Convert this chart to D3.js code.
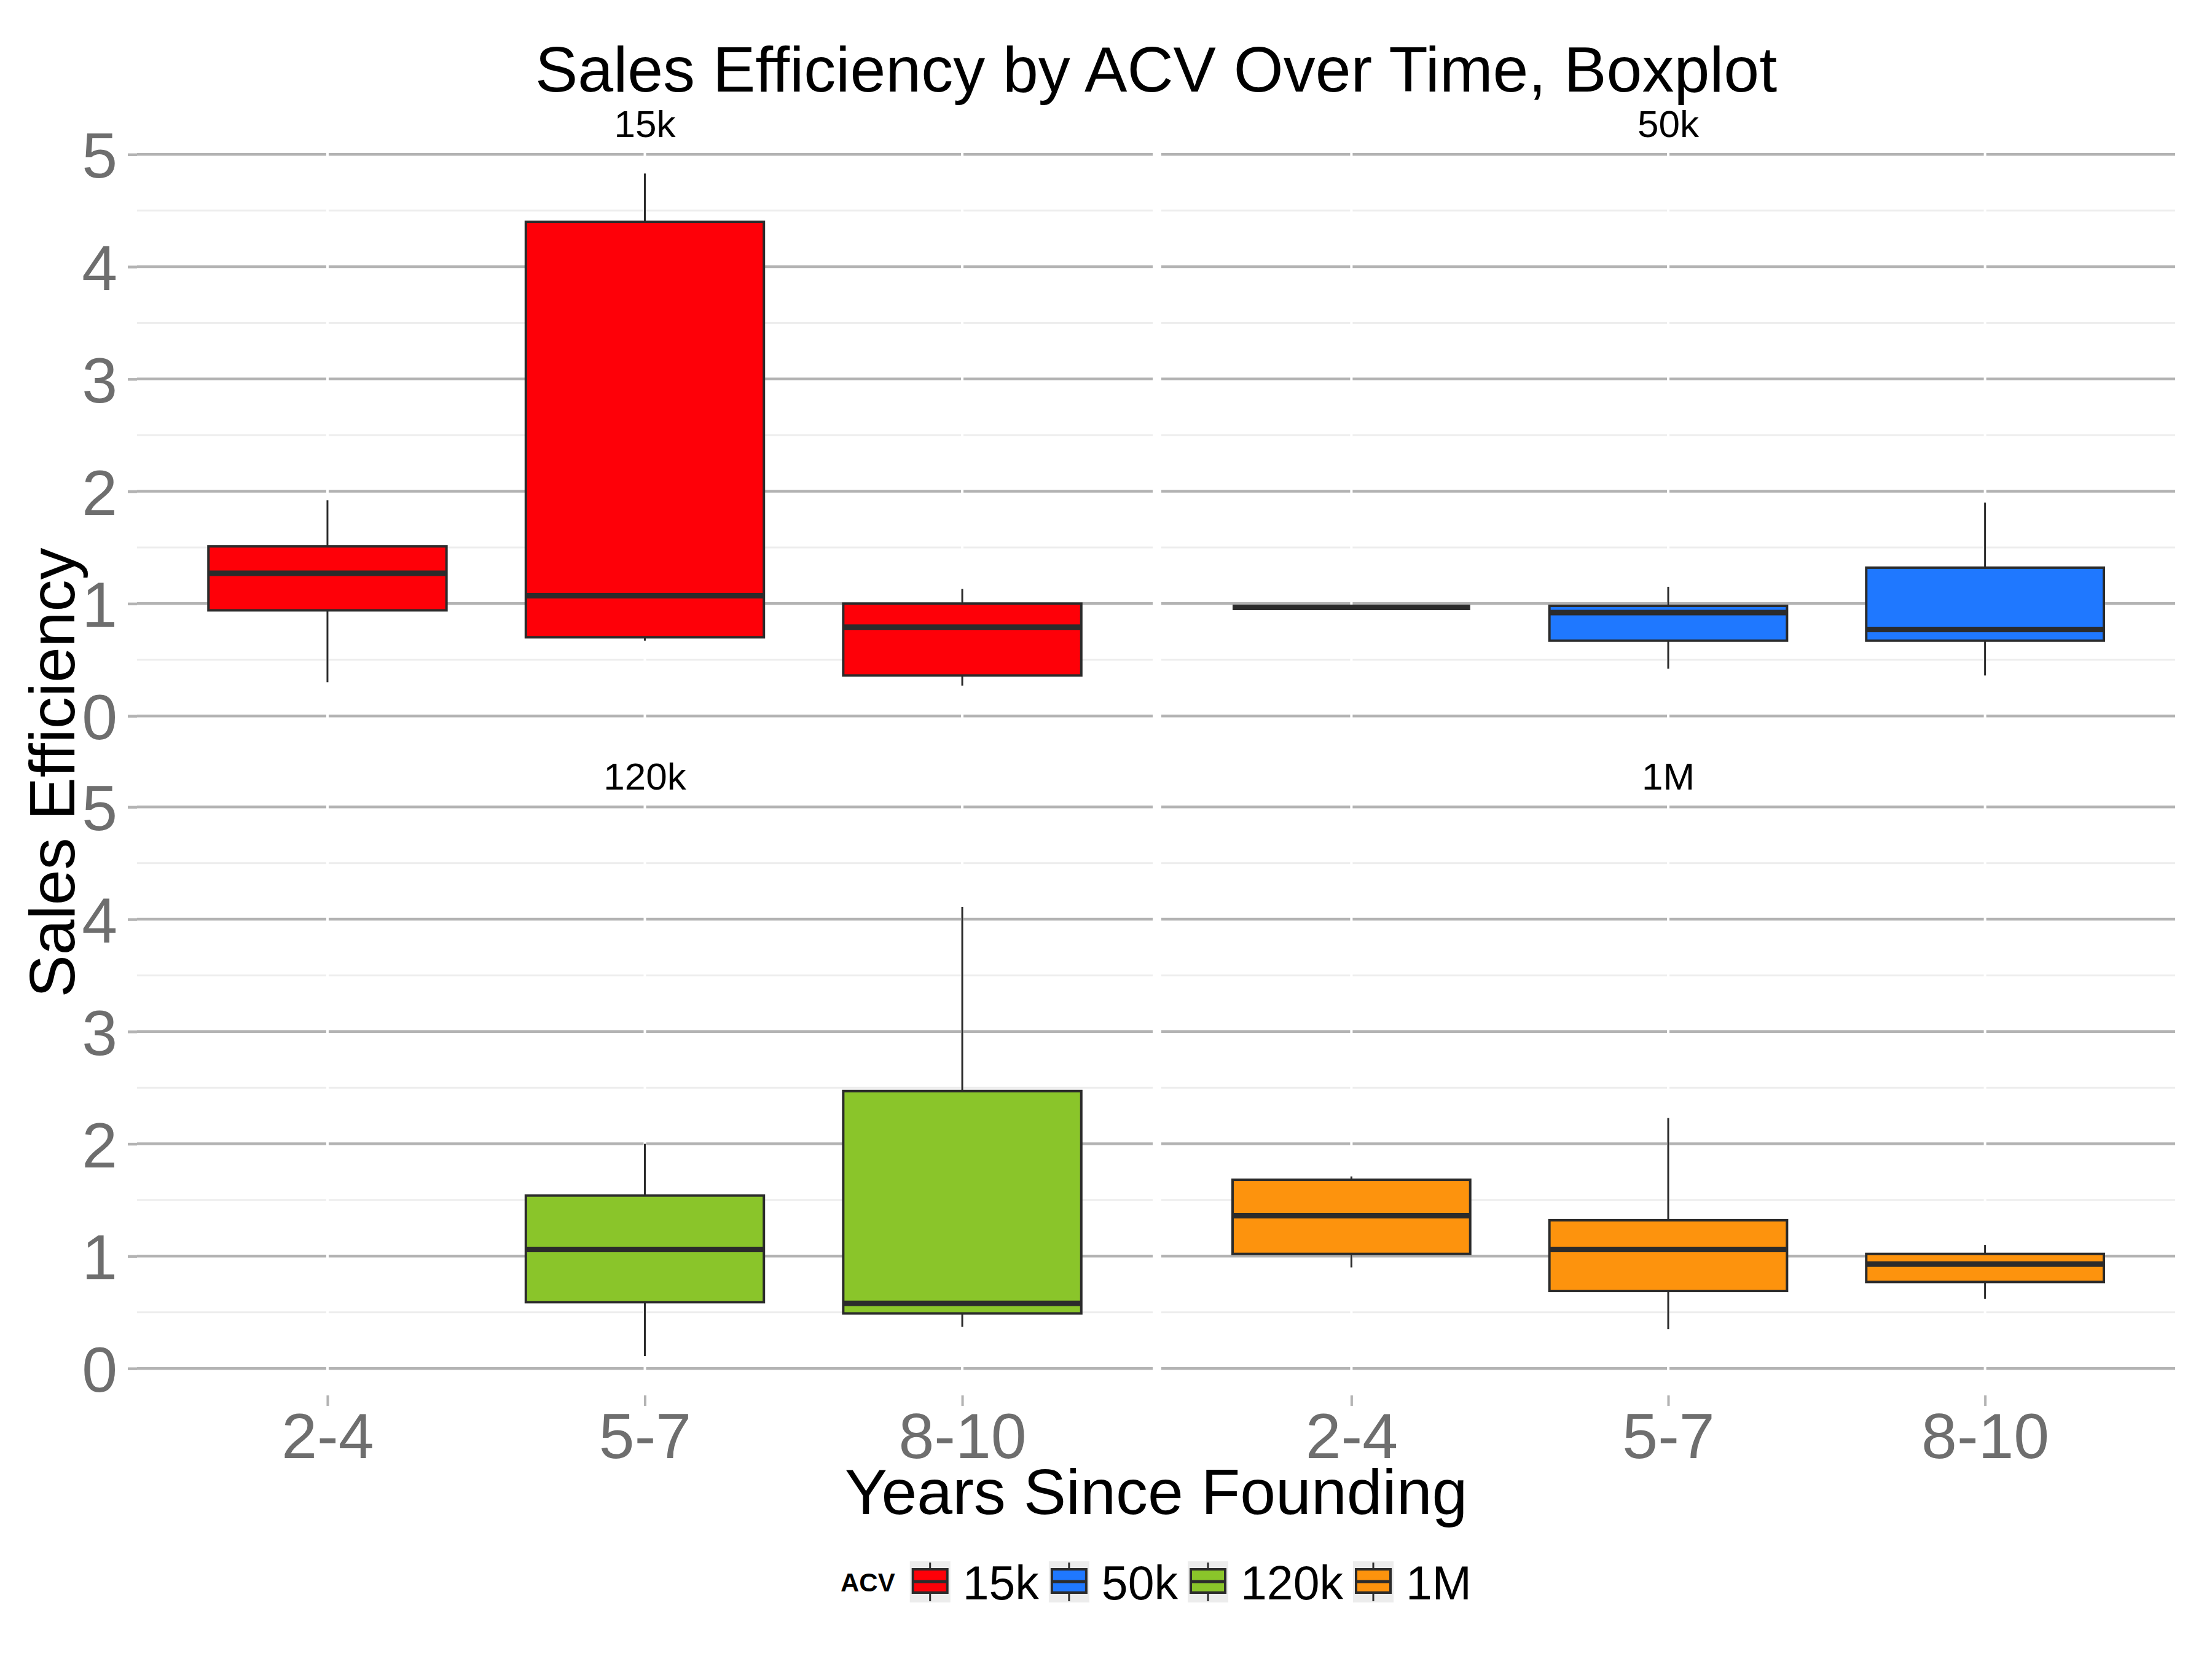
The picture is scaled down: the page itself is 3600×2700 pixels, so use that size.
<!DOCTYPE html>
<html><head><meta charset="utf-8">
<script src="https://cdn.jsdelivr.net/npm/d3@7"></script>
<style>
body{margin:0;background:#fff}
text{font-family:"Liberation Sans",Arial,sans-serif}
</style>
</head><body>
<svg id="chart" width="3600" height="2700"></svg>
<script>
// ---------------- data ----------------
const years = ["2-4", "5-7", "8-10"];
const acvLevels = ["15k", "50k", "120k", "1M"];
const acvColors = ["#FE0008", "#1F78FF", "#8AC52A", "#FD930D"];
// each entry: [lower whisker, Q1, median, Q3, upper whisker]; null = no data
const stats15k  = [[0.30, 0.94, 1.27, 1.51, 1.92], [0.67, 0.70, 1.07, 4.40, 4.83], [0.27, 0.36, 0.79, 1.00, 1.13]];
const stats50k  = [[0.966, 0.966, 0.966, 0.966, 0.966], [0.42, 0.67, 0.92, 0.98, 1.15], [0.36, 0.67, 0.77, 1.32, 1.90]];
const stats120k = [null, [0.11, 0.59, 1.06, 1.54, 2.00], [0.37, 0.49, 0.58, 2.47, 4.11]];
const stats1M   = [[0.90, 1.02, 1.36, 1.68, 1.71], [0.35, 0.69, 1.06, 1.32, 2.23], [0.62, 0.77, 0.93, 1.02, 1.10]];
const yTicks = [0, 1, 2, 3, 4, 5];
const yMinorTicks = [0.5, 1.5, 2.5, 3.5, 4.5];
const chartTitle = "Sales Efficiency by ACV Over Time, Boxplot";
const xTitle = "Years Since Founding";
const yTitle = "Sales Efficiency";
const legendTitle = "ACV";

const allStats = [stats15k, stats50k, stats120k, stats1M];

// ---------------- layout ----------------
const svg = d3.select("#chart");
svg.append("rect").attr("width", 3600).attr("height", 2700).attr("fill", "#fff");

const cols = [[223, 1876], [1890, 3540]];
const rows = [[244, 1209], [1306, 2271]];
const yDomain = [-0.24, 5.04];
const gridMajor = "#b3b3b3", gridMinor = "#ededed", tickText = "#6e6e6e", ink = "#2b2b2b";

const panels = acvLevels.map((acv, i) => ({
  acv, color: acvColors[i], stats: allStats[i],
  col: i % 2, row: Math.floor(i / 2)
}));

panels.forEach(p => {
  const [x0, x1] = cols[p.col];
  const [y0, y1] = rows[p.row];
  const x = d3.scalePoint().domain(years).range([x0, x1]).padding(0.6);
  const y = d3.scaleLinear().domain(yDomain).range([y1, y0]);
  const g = svg.append("g");

  // minor grid
  g.selectAll(".minor").data(yMinorTicks).enter().append("line")
    .attr("x1", x0).attr("x2", x1).attr("y1", d => y(d)).attr("y2", d => y(d))
    .attr("stroke", gridMinor).attr("stroke-width", 3);
  // major grid
  g.selectAll(".major").data(yTicks).enter().append("line")
    .attr("x1", x0).attr("x2", x1).attr("y1", d => y(d)).attr("y2", d => y(d))
    .attr("stroke", gridMajor).attr("stroke-width", 4.5);
  // white vertical grid
  g.selectAll(".vgrid").data(years).enter().append("line")
    .attr("x1", d => x(d)).attr("x2", d => x(d)).attr("y1", y0).attr("y2", y1)
    .attr("stroke", "#fff").attr("stroke-width", 4);

  // boxes
  const bw = x.step() * 0.75;
  years.forEach((yr, j) => {
    const s = p.stats[j];
    if (!s) return;
    const [lo, q1, med, q3, hi] = s;
    const cx = x(yr);
    g.append("line").attr("x1", cx).attr("x2", cx).attr("y1", y(hi)).attr("y2", y(q3))
      .attr("stroke", ink).attr("stroke-width", 3);
    g.append("line").attr("x1", cx).attr("x2", cx).attr("y1", y(q1)).attr("y2", y(lo))
      .attr("stroke", ink).attr("stroke-width", 3);
    g.append("rect").attr("x", cx - bw / 2).attr("width", bw)
      .attr("y", y(q3)).attr("height", Math.max(0, y(q1) - y(q3)))
      .attr("fill", p.color).attr("stroke", ink).attr("stroke-width", 4);
    g.append("line").attr("x1", cx - bw / 2).attr("x2", cx + bw / 2)
      .attr("y1", y(med)).attr("y2", y(med))
      .attr("stroke", ink).attr("stroke-width", 9).attr("stroke-linecap", "butt");
  });

  // strip label
  g.append("text").attr("x", (x0 + x1) / 2).attr("y", y0 - 21)
    .attr("text-anchor", "middle").attr("font-size", 62).attr("fill", "#000").text(p.acv);

  // y axis on left column
  if (p.col === 0) {
    const ax = g.append("g").attr("transform", `translate(${x0},0)`)
      .call(d3.axisLeft(y).tickValues(yTicks).tickSize(15).tickPadding(17).tickFormat(d3.format("d")));
    ax.select(".domain").remove();
    ax.selectAll(".tick line").attr("stroke", gridMajor).attr("stroke-width", 4.5);
    ax.selectAll(".tick text").attr("font-size", 104).attr("fill", tickText)
      .attr("font-family", '"Liberation Sans",Arial,sans-serif').attr("dy", "0.36em");
  }
  // x axis on bottom row
  if (p.row === 1) {
    const ax = g.append("g").attr("transform", `translate(0,${y1})`)
      .call(d3.axisBottom(x).tickSize(17).tickPadding(11));
    ax.select(".domain").remove();
    ax.selectAll(".tick line").attr("stroke", gridMajor).attr("stroke-width", 4);
    ax.selectAll(".tick text").attr("font-size", 104).attr("fill", tickText)
      .attr("font-family", '"Liberation Sans",Arial,sans-serif');
  }
});

const cx = (cols[0][0] + cols[1][1]) / 2;
// title
svg.append("text").attr("x", cx).attr("y", 149).attr("text-anchor", "middle")
  .attr("font-size", 104).attr("fill", "#000").text(chartTitle);
// x title
svg.append("text").attr("x", cx).attr("y", 2464).attr("text-anchor", "middle")
  .attr("font-size", 104).attr("fill", "#000").text(xTitle);
// y title
svg.append("text").attr("transform", `translate(121,${(rows[0][0] + rows[1][1]) / 2}) rotate(-90)`)
  .attr("text-anchor", "middle").attr("font-size", 104).attr("fill", "#000").text(yTitle);

// legend
const lg = svg.append("g");
let lx = 0;
const lt = lg.append("text").attr("x", lx).attr("y", 2590).attr("font-size", 42)
  .attr("font-weight", "bold").attr("fill", "#000").text(legendTitle);
lx += lt.node().getComputedTextLength() + 24;
acvLevels.forEach((acv, i) => {
  const k = lg.append("g").attr("transform", `translate(${lx},2541)`);
  k.append("rect").attr("width", 66).attr("height", 67).attr("fill", "#ececec");
  k.append("line").attr("x1", 33).attr("x2", 33).attr("y1", 2).attr("y2", 65)
    .attr("stroke", ink).attr("stroke-width", 3);
  k.append("rect").attr("x", 5).attr("y", 13).attr("width", 56).attr("height", 38)
    .attr("fill", acvColors[i]).attr("stroke", ink).attr("stroke-width", 4);
  k.append("line").attr("x1", 5).attr("x2", 61).attr("y1", 33).attr("y2", 33)
    .attr("stroke", ink).attr("stroke-width", 5);
  lx += 66 + 20;
  const t = lg.append("text").attr("x", lx).attr("y", 2603).attr("font-size", 77)
    .attr("fill", "#000").text(acv);
  lx += t.node().getComputedTextLength() + 16;
});
lx -= 16;
lg.attr("transform", `translate(${cx - lx / 2},0)`);
</script>
</body></html>
